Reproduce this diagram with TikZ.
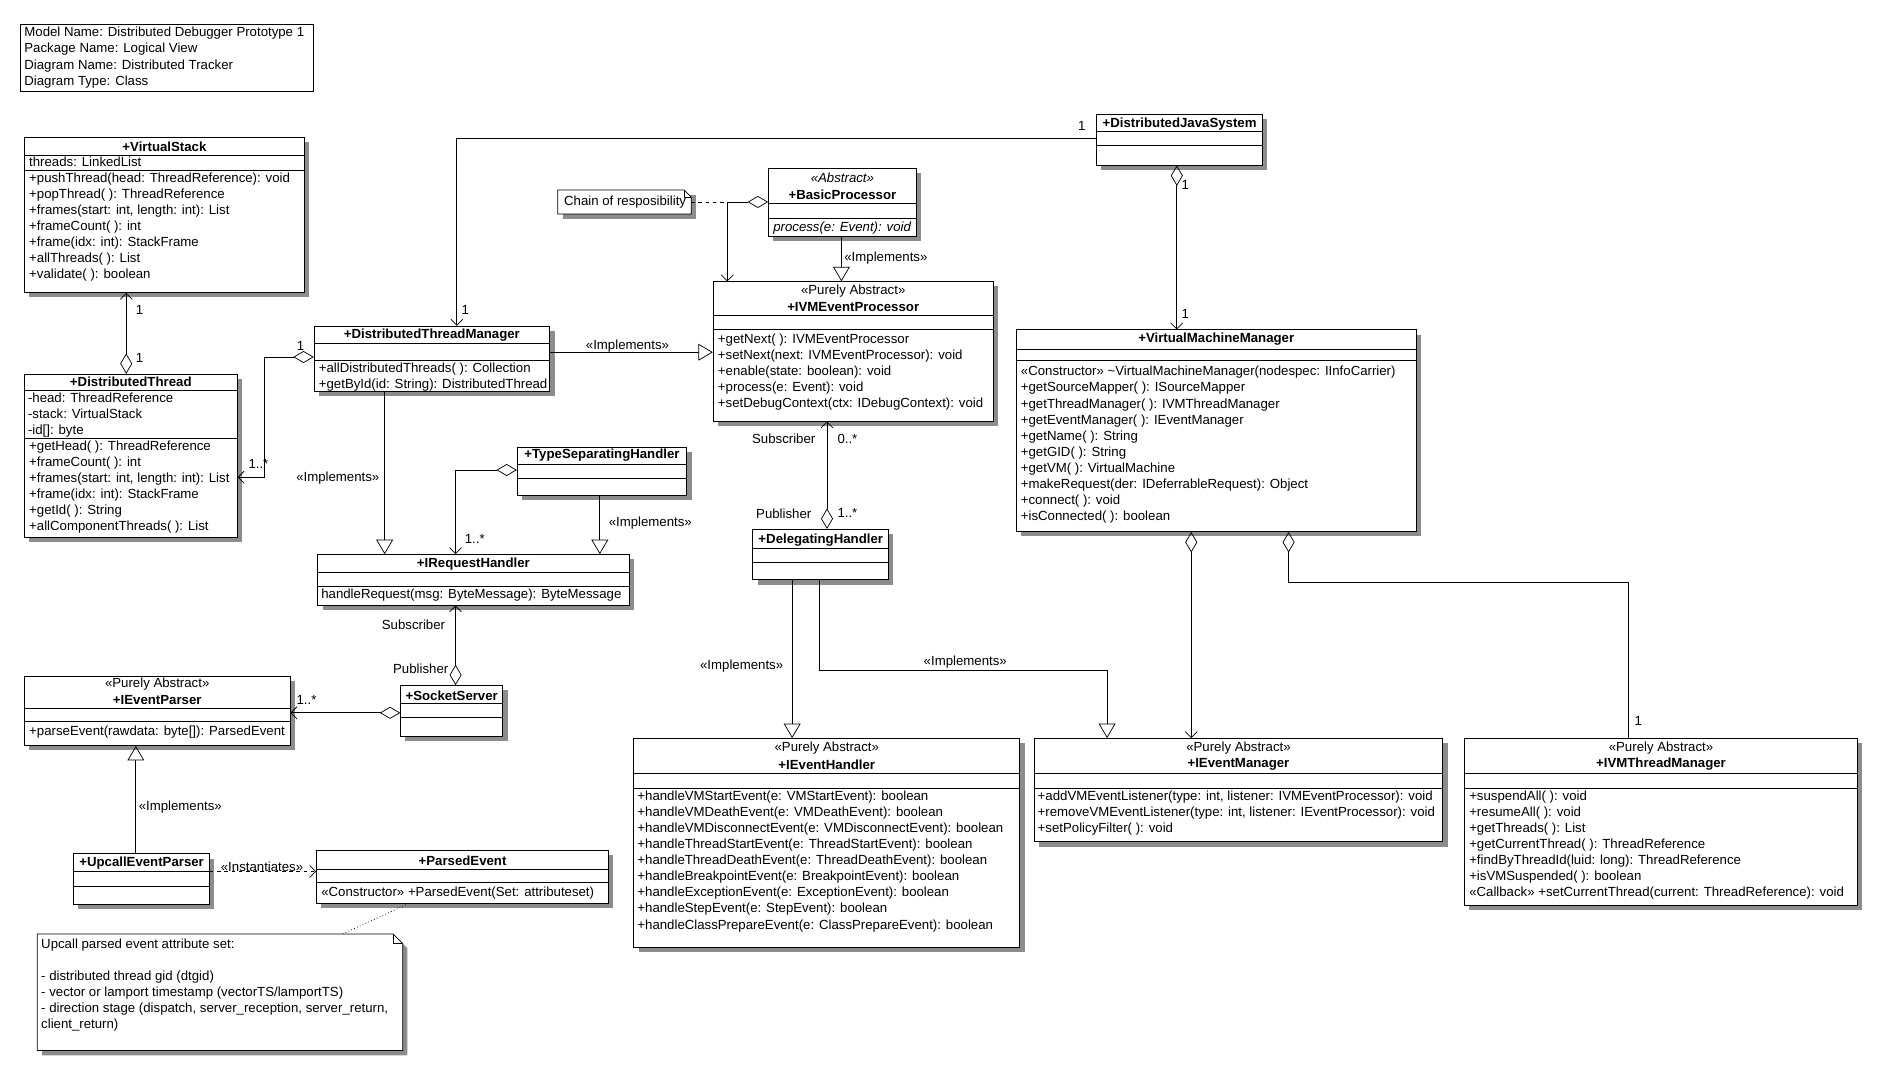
\documentclass[tikz,border=0pt]{standalone}
\usepackage{fontspec}
\setmainfont{Liberation Sans}
\usetikzlibrary{arrows.meta, shadows}

\newcommand{\memfont}{\fontsize{11}{13.4}\selectfont}
% class box: name, left, top, width, height
\newcommand{\umlbox}[5]{%
  \node[cls, minimum width=#4pt, minimum height=#5pt] (#1) at (#2,#3) {};}
% compartment line at offset from the top
\newcommand{\compart}[2]{%
  \draw ([yshift=-#2pt]#1.north west) -- ([yshift=-#2pt]#1.north east);}

\tikzset{
  cls/.style={draw, fill=white, anchor=north west, inner sep=0pt,
    drop shadow={shadow xshift=4pt, shadow yshift=-4pt, fill=black!45, opacity=1}},
  member/.style={anchor=north west, align=left, inner sep=0pt, font=\memfont},
  title/.style={inner sep=0pt, font=\memfont\bfseries},
  stereo/.style={inner sep=0pt, font=\memfont},
  lbl/.style={inner sep=0pt, font=\memfont},
  nav/.style={-{Straight Barb[length=5pt, width=10pt]}},
  agg/.style={{Diamond[open, length=17pt, width=10pt]}-},
  aggnav/.style={{Diamond[open, length=17pt, width=10pt]}-{Straight Barb[length=5pt, width=10pt]}},
  impl/.style={-{Triangle[open, length=12pt, width=14pt]}},
  dep/.style={dashed, -{Straight Barb[length=5pt, width=10pt]}},
}

\begin{document}
\begin{tikzpicture}[x=1pt, y=-1pt, line width=0.6pt]
    \useasboundingbox[fill=white] (0,0) rectangle (1564,894);

    % Model info
    \node[draw, anchor=north west, inner sep=0pt, minimum width=243pt, minimum height=56pt] (info) at (17,20) {};
    \node[member] at ([xshift=3pt, yshift=-1pt]info.north west)
        {\strut Model Name: Distributed Debugger Prototype 1\\Package Name: Logical View\\Diagram Name: Distributed Tracker\\Diagram Type: Class};

    % VirtualStack
    \umlbox{vs}{20}{114}{233}{129}
    \node[title] at ([yshift=-8pt]vs.north) {+VirtualStack};
    \compart{vs}{15} \compart{vs}{28}
    \node[member] at ([xshift=4pt, yshift=-15pt]vs.north west) {\strut threads: LinkedList};
    \node[member] at ([xshift=4pt, yshift=-28pt]vs.north west)
        {\strut +pushThread(head: ThreadReference): void\\+popThread( ): ThreadReference\\+frames(start: int, length: int): List\\+frameCount( ): int\\+frame(idx: int): StackFrame\\+allThreads( ): List\\+validate( ): boolean};

    % DistributedThread
    \umlbox{dt}{20}{311}{177}{136}
    \node[title] at ([yshift=-7pt]dt.north) {+DistributedThread};
    \compart{dt}{14} \compart{dt}{54}
    \node[member] at ([xshift=3pt, yshift=-14pt]dt.north west)
        {\strut -head: ThreadReference\\-stack: VirtualStack\\-id[]: byte};
    \node[member] at ([xshift=4pt, yshift=-54pt]dt.north west)
        {\strut +getHead( ): ThreadReference\\+frameCount( ): int\\+frames(start: int, length: int): List\\+frame(idx: int): StackFrame\\+getId( ): String\\+allComponentThreads( ): List};

    % DistributedThreadManager
    \umlbox{dtm}{261}{271}{196}{54}
    \node[title] at ([yshift=-8pt]dtm.north) {+DistributedThreadManager};
    \compart{dtm}{15} \compart{dtm}{29}
    \node[member] at ([xshift=4pt, yshift=-29pt]dtm.north west)
        {\strut +allDistributedThreads( ): Collection\\+getById(id: String): DistributedThread};

    % TypeSeparatingHandler
    \umlbox{tsh}{430}{372}{141}{40}
    \node[title] at ([yshift=-7pt]tsh.north) {+TypeSeparatingHandler};
    \compart{tsh}{14} \compart{tsh}{26}

    % IRequestHandler
    \umlbox{irh}{264}{461}{259}{42}
    \node[title] at ([yshift=-8pt]irh.north) {+IRequestHandler};
    \compart{irh}{15} \compart{irh}{27}
    \node[member] at ([xshift=3pt, yshift=-27pt]irh.north west)
        {\strut handleRequest(msg: ByteMessage): ByteMessage};

    % IEventParser
    \umlbox{iep}{20}{562}{221}{58}
    \node[stereo] at ([yshift=-7pt]iep.north) {«Purely Abstract»};
    \node[title] at ([yshift=-20pt]iep.north) {+IEventParser};
    \compart{iep}{27} \compart{iep}{38}
    \node[member] at ([xshift=4pt, yshift=-40pt]iep.north west)
        {\strut +parseEvent(rawdata: byte[]): ParsedEvent};

    % SocketServer
    \umlbox{ss}{333}{570}{85}{42}
    \node[title] at ([yshift=-9pt]ss.north) {+SocketServer};
    \compart{ss}{15} \compart{ss}{27}

    % UpcallEventParser
    \umlbox{uep}{61}{710}{113}{42}
    \node[title] at ([yshift=-8pt]uep.north) {+UpcallEventParser};
    \compart{uep}{15} \compart{uep}{27}

    % ParsedEvent
    \umlbox{pe}{263}{707}{243}{44}
    \node[title] at ([yshift=-9pt]pe.north) {+ParsedEvent};
    \compart{pe}{16} \compart{pe}{27}
    \node[member] at ([xshift=4pt, yshift=-29pt]pe.north west)
        {\strut «Constructor» +ParsedEvent(Set: attributeset)};

    % attribute note
    \fill[black!45] (35,781) -- (331,781) -- (339,789) -- (339,878) -- (35,878) -- cycle;
    \draw[fill=white] (31,777) -- (327,777) -- (335,785) -- (335,874) -- (31,874) -- cycle;
    \draw (327,777) |- (335,785);
    \coordinate (pnote) at (285,777);
    \node[member] at (34,779)
        {\strut Upcall parsed event attribute set:\\[13.4pt]- distributed thread gid (dtgid)\\- vector or lamport timestamp (vectorTS/lamportTS)\\- direction stage (dispatch, server\_reception, server\_return,\\client\_return)};

    % Chain note
    \fill[black!45] (468,162) -- (579,162) -- (579,182) -- (468,182) -- cycle;
    \draw[fill=white] (464,158) -- (569,158) -- (575,164) -- (575,178) -- (464,178) -- cycle;
    \draw (569,158) |- (575,164);
    \coordinate (cnote) at (575,168);
    \node[lbl, anchor=west] at (469,168) {Chain of resposibility};

    % BasicProcessor
    \umlbox{bp}{639}{140}{123}{56}
    \node[stereo, font=\memfont\itshape] at ([yshift=-8pt]bp.north) {«Abstract»};
    \node[title] at ([yshift=-22pt]bp.north) {+BasicProcessor};
    \compart{bp}{29} \compart{bp}{42}
    \node[member, font=\memfont\itshape] at ([xshift=4pt, yshift=-43pt]bp.north west)
        {\strut process(e: Event): void};

    % IVMEventProcessor
    \umlbox{ivmep}{593}{234}{233}{116}
    \node[stereo] at ([yshift=-8pt]ivmep.north) {«Purely Abstract»};
    \node[title] at ([yshift=-21pt]ivmep.north) {+IVMEventProcessor};
    \compart{ivmep}{28} \compart{ivmep}{40}
    \node[member] at ([xshift=4pt, yshift=-42pt]ivmep.north west)
        {\strut +getNext( ): IVMEventProcessor\\+setNext(next: IVMEventProcessor): void\\+enable(state: boolean): void\\+process(e: Event): void\\+setDebugContext(ctx: IDebugContext): void};

    % DelegatingHandler
    \umlbox{dh}{626}{440}{113}{42}
    \node[title] at ([yshift=-9pt]dh.north) {+DelegatingHandler};
    \compart{dh}{16} \compart{dh}{28}

    % DistributedJavaSystem
    \umlbox{djs}{912}{95}{138}{42}
    \node[title] at ([yshift=-8pt]djs.north) {+DistributedJavaSystem};
    \compart{djs}{14} \compart{djs}{26}

    % VirtualMachineManager
    \umlbox{vmm}{845}{274}{333}{168}
    \node[title] at ([yshift=-8pt]vmm.north) {+VirtualMachineManager};
    \compart{vmm}{17} \compart{vmm}{26}
    \node[member] at ([xshift=4pt, yshift=-29pt]vmm.north west)
        {\strut «Constructor» \textasciitilde VirtualMachineManager(nodespec: IInfoCarrier)\\+getSourceMapper( ): ISourceMapper\\+getThreadManager( ): IVMThreadManager\\+getEventManager( ): IEventManager\\+getName( ): String\\+getGID( ): String\\+getVM( ): VirtualMachine\\+makeRequest(der: IDeferrableRequest): Object\\+connect( ): void\\+isConnected( ): boolean};

    % IEventHandler
    \umlbox{ieh}{527}{614}{321}{174}
    \node[stereo] at ([yshift=-8pt]ieh.north) {«Purely Abstract»};
    \node[title] at ([yshift=-22pt]ieh.north) {+IEventHandler};
    \compart{ieh}{29} \compart{ieh}{42}
    \node[member] at ([xshift=3pt, yshift=-42pt]ieh.north west)
        {\strut +handleVMStartEvent(e: VMStartEvent): boolean\\+handleVMDeathEvent(e: VMDeathEvent): boolean\\+handleVMDisconnectEvent(e: VMDisconnectEvent): boolean\\+handleThreadStartEvent(e: ThreadStartEvent): boolean\\+handleThreadDeathEvent(e: ThreadDeathEvent): boolean\\+handleBreakpointEvent(e: BreakpointEvent): boolean\\+handleExceptionEvent(e: ExceptionEvent): boolean\\+handleStepEvent(e: StepEvent): boolean\\+handleClassPrepareEvent(e: ClassPrepareEvent): boolean};

    % IEventManager
    \umlbox{iem}{860}{614}{340}{86}
    \node[stereo] at ([yshift=-8pt]iem.north) {«Purely Abstract»};
    \node[title] at ([yshift=-22pt]iem.north) {+IEventManager};
    \compart{iem}{29} \compart{iem}{42}
    \node[member] at ([xshift=3pt, yshift=-42pt]iem.north west)
        {\strut +addVMEventListener(type: int, listener: IVMEventProcessor): void\\+removeVMEventListener(type: int, listener: IEventProcessor): void\\+setPolicyFilter( ): void};

    % IVMThreadManager
    \umlbox{ivmtm}{1218}{614}{327}{139}
    \node[stereo] at ([yshift=-8pt]ivmtm.north) {«Purely Abstract»};
    \node[title] at ([yshift=-22pt]ivmtm.north) {+IVMThreadManager};
    \compart{ivmtm}{29} \compart{ivmtm}{42}
    \node[member] at ([xshift=4pt, yshift=-42pt]ivmtm.north west)
        {\strut +suspendAll( ): void\\+resumeAll( ): void\\+getThreads( ): List\\+getCurrentThread( ): ThreadReference\\+findByThreadId(luid: long): ThreadReference\\+isVMSuspended( ): boolean\\«Callback» +setCurrentThread(current: ThreadReference): void};

    % connectors
    \draw[nav] ([yshift=-20pt]djs.north west) -| ([xshift=119pt]dtm.north west);
    \draw[aggnav] ([xshift=67pt]djs.south west) -- ([xshift=134pt]vmm.north west);
    \draw[aggnav] ([xshift=85pt]dt.north west) -- ([xshift=85pt]vs.south west);
    \draw[aggnav] ([yshift=-26pt]dtm.north west) -- ++(-41,0) |- ([yshift=-86pt]dt.north east);
    \draw[impl] ([xshift=59pt]dtm.south west) -- ([xshift=56pt]irh.north west);
    \draw[impl] ([yshift=-22pt]dtm.north east) -- ([yshift=-59pt]ivmep.north west);
    \draw[impl] ([xshift=61pt]bp.south west) -- ([xshift=107pt]ivmep.north west);
    \coordinate (cj) at ([xshift=12pt]ivmep.north west);
    \draw[aggnav] ([yshift=-28pt]bp.north west) -| (cj);
    \draw[dashed] (cnote) -- (cnote -| cj);
    \draw[aggnav] ([yshift=-19pt]tsh.north west) -| ([xshift=115pt]irh.north west);
    \draw[impl] ([xshift=69pt]tsh.south west) -- ([xshift=235pt]irh.north west);
    \draw[aggnav] ([xshift=46pt]ss.north west) -- ([xshift=115pt]irh.south west);
    \draw[aggnav] ([yshift=-23pt]ss.north west) -- ([yshift=-31pt]iep.north east);
    \draw[impl] ([xshift=52pt]uep.north west) -- ([xshift=93pt]iep.south west);
    \draw[dep] ([yshift=-15pt]uep.north east) -- ([yshift=-18pt]pe.north west);
    \draw[dotted] ([xshift=77pt]pe.south west) -- (pnote);
    \draw[aggnav] ([xshift=62pt]dh.north west) -- ([xshift=95pt]ivmep.south west);
    \draw[impl] ([xshift=33pt]dh.south west) -- ([xshift=132pt]ieh.north west);
    \draw[impl] ([xshift=56pt]dh.south west) -- ++(0,75) -| ([xshift=61pt]iem.north west);
    \draw[aggnav] ([xshift=146pt]vmm.south west) -- ([xshift=131pt]iem.north west);
    \draw[agg] ([xshift=227pt]vmm.south west) -- ++(0,42) -| ([xshift=137pt]ivmtm.north west);

    % connector labels
    \node[lbl] at (900,105) {1};
    \node[lbl] at (387,258) {1};
    \node[lbl] at (986,154) {1};
    \node[lbl] at (986,261) {1};
    \node[lbl] at (116,258) {1};
    \node[lbl] at (116,298) {1};
    \node[lbl] at (250,288) {1};
    \node[lbl] at (215,386) {1..*};
    \node[lbl] at (281,398) {«Implements»};
    \node[lbl] at (522,288) {«Implements»};
    \node[lbl] at (737,215) {«Implements»};
    \node[lbl] at (395,448) {1..*};
    \node[lbl] at (541,435) {«Implements»};
    \node[lbl] at (344,520) {Subscriber};
    \node[lbl] at (350,556) {Publisher};
    \node[lbl] at (255,582) {1..*};
    \node[lbl] at (150,671) {«Implements»};
    \node[lbl] at (218,721) {«Instantiates»};
    \node[lbl] at (652,365) {Subscriber};
    \node[lbl] at (705,365) {0..*};
    \node[lbl] at (652,427) {Publisher};
    \node[lbl] at (705,427) {1..*};
    \node[lbl] at (617,554) {«Implements»};
    \node[lbl] at (803,551) {«Implements»};
    \node[lbl] at (1363,600) {1};
\end{tikzpicture}
\end{document}
